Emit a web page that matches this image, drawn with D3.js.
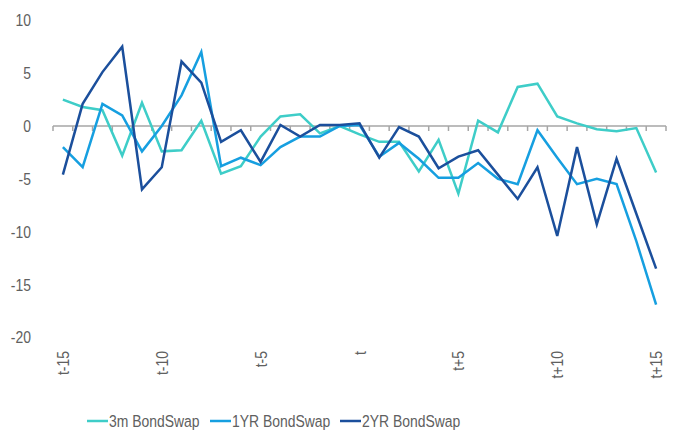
<!DOCTYPE html>
<html>
<head>
    <meta charset="utf-8">
    <script type="text/javascript" src="https://d3js.org/d3.v7.min.js"></script>
    <style>
body {
	margin: 0;
	background: #fff;
}

svg text {
	font-family: "Liberation Sans Narrow", "Arial Narrow", "Liberation Sans", sans-serif;
	fill: #606060;
	font-size: 17px;
}

.axis line {
	stroke: #a6a6a6;
	stroke-width: 1.5;
}

.line {
	fill: none;
	stroke-width: 2.5;
}
    </style>
</head>
<body>
	<svg class="chart" width="675" height="432"></svg>

    <script type="text/javascript">

	var periods = ["t-15","t-14","t-13","t-12","t-11","t-10","t-9","t-8","t-7","t-6","t-5",
		"t-4","t-3","t-2","t-1","t","t+1","t+2","t+3","t+4","t+5",
		"t+6","t+7","t+8","t+9","t+10","t+11","t+12","t+13","t+14","t+15"];
	var shownLabels = ["t-15","t-10","t-5","t","t+5","t+10","t+15"];
	var yTicks = [10, 5, 0, -5, -10, -15, -20];

	var bond3m = [2.5, 1.8, 1.5, -2.8, 2.2, -2.4, -2.3, 0.5, -4.5, -3.8, -1.0,
		0.9, 1.1, -0.7, 0.0, -0.8, -1.5, -1.5, -4.3, -1.3, -6.4,
		0.5, -0.6, 3.7, 4.0, 0.9, 0.25, -0.3, -0.5, -0.2, -4.4];
	var bond1yr = [-2.0, -3.9, 2.1, 1.0, -2.4, 0.0, 2.9, 7.0, -3.8, -3.0, -3.7,
		-2.0, -1.0, -1.0, 0.0, 0.1, -2.9, -1.6, -3.1, -4.9, -4.9,
		-3.5, -5.0, -5.5, -0.4, -3.0, -5.5, -5.0, -5.5, -10.9, -16.9];
	var bond2yr = [-4.6, 2.1, 5.1, 7.5, -6.0, -3.9, 6.1, 4.1, -1.5, -0.4, -3.4,
		0.1, -1.0, 0.1, 0.1, 0.25, -3.0, -0.1, -1.0, -4.0, -2.9,
		-2.3, -4.6, -6.9, -3.9, -10.4, -2.0, -9.3, -3.1, -8.3, -13.5];

	var series = [
		{name: "3m BondSwap", values: bond3m, color: "#3ecdc8"},
		{name: "1YR BondSwap", values: bond1yr, color: "#169fe0"},
		{name: "2YR BondSwap", values: bond2yr, color: "#1b4f9c"}
	];

	// no narrow font installed, so squeeze the regular one
	var narrow = " scale(0.82,1)";

	var svg = d3.select(".chart");

	var xScale = d3.scaleBand()
		.domain(periods)
		.range([53, 666])
		.padding(0);

	var yScale = d3.scaleLinear()
		.domain([-20, 10])
		.range([337.4, 20.3]);

	// y labels, no axis line
	svg.append("g")
		.selectAll("text")
		.data(yTicks)
		.enter().append("text")
		.attr("transform", function(d) { return "translate(31," + yScale(d) + ")" + narrow; })
		.attr("dy", "0.35em")
		.attr("text-anchor", "end")
		.text(function(d) { return d; });

	// x axis sits on zero
	var xAxis = svg.append("g")
		.attr("class", "axis")
		.attr("transform", "translate(0," + yScale(0) + ")");

	xAxis.append("line")
		.attr("x1", 53)
		.attr("x2", 666);

	xAxis.selectAll(".tick")
		.data(periods.concat(["end"]))
		.enter().append("line")
		.attr("x1", function(d, i) { return 53 + i * xScale.bandwidth(); })
		.attr("x2", function(d, i) { return 53 + i * xScale.bandwidth(); })
		.attr("y1", 0)
		.attr("y2", 5);

	// category labels at the bottom, rotated
	svg.append("g")
		.selectAll("text")
		.data(shownLabels)
		.enter().append("text")
		.attr("transform", function(d) {
			return "translate(" + (xScale(d) + xScale.bandwidth() / 2 + 6) + ",351) rotate(-90)" + narrow;
		})
		.attr("text-anchor", "end")
		.text(function(d) { return d; });

	var line = d3.line()
		.x(function(d, i) { return xScale(periods[i]) + xScale.bandwidth() / 2; })
		.y(function(d) { return yScale(d); });

	svg.append("g")
		.selectAll("path")
		.data(series)
		.enter().append("path")
		.attr("class", "line")
		.attr("stroke", function(d) { return d.color; })
		.attr("d", function(d) { return line(d.values); });

	// legend
	var legendX = [87, 210, 340];
	var legend = svg.append("g")
		.selectAll("g")
		.data(series)
		.enter().append("g")
		.attr("transform", function(d, i) { return "translate(" + legendX[i] + ",421)"; });

	legend.append("line")
		.attr("x1", 0)
		.attr("x2", 21)
		.attr("stroke", function(d) { return d.color; })
		.attr("stroke-width", 2.5);

	legend.append("text")
		.attr("transform", "translate(22,0)" + narrow)
		.attr("dy", "0.35em")
		.text(function(d) { return d.name; });
	</script>
</body>
</html>
